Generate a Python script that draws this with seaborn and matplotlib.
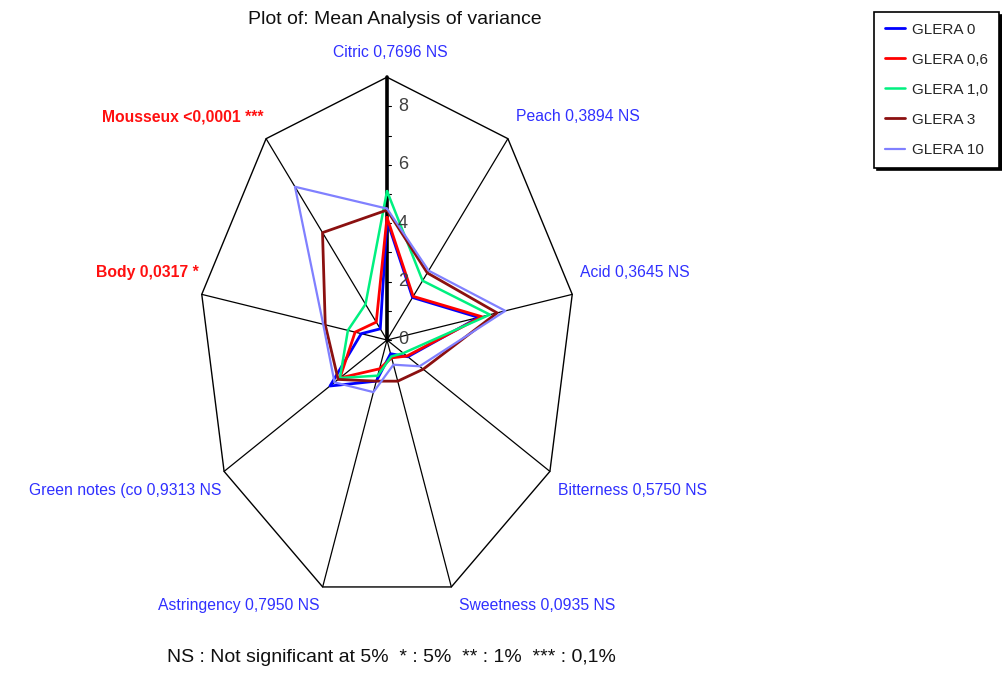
import numpy as np
import pandas as pd
import seaborn as sns
import matplotlib.pyplot as plt
from matplotlib.lines import Line2D

# attributes, clockwise from the top
attributes = ["Citric", "Peach", "Acid", "Bitterness", "Sweetness",
              "Astringency", "Green notes (co", "Body", "Mousseux"]
pvalues = ["0,7696 NS", "0,3894 NS", "0,3645 NS", "0,5750 NS", "0,0935 NS",
           "0,7950 NS", "0,9313 NS", "0,0317 *", "<0,0001 ***"]
significant = [False, False, False, False, False, False, False, True, True]

series_names = ["GLERA 0", "GLERA 0,6", "GLERA 1,0", "GLERA 3", "GLERA 10"]
glera_0 = [4.1, 1.9, 4.45, 1.15, 0.5, 1.5, 3.15, 1.25, 0.5]
glera_06 = [4.2, 1.95, 4.6, 1.1, 0.65, 1.05, 2.6, 1.55, 0.8]
glera_10 = [5.1, 2.65, 5.0, 0.9, 0.6, 1.3, 2.6, 1.9, 1.6]
glera_3 = [4.45, 3.0, 5.35, 2.0, 1.5, 1.5, 2.7, 3.0, 4.8]
glera_10b = [4.5, 3.1, 5.75, 1.8, 0.9, 1.9, 2.9, 3.1, 6.85]
series_values = [glera_0, glera_06, glera_10, glera_3, glera_10b]

ticks = [0, 2, 4, 6, 8]
r_max = 9

colors = ["#0000FF", "#FF0000", "#00F080", "#8B1010", "#8080FF"]
widths = [2.0, 2.0, 1.8, 2.0, 1.6]

sns.set_style("white")
plt.rcParams['font.family'] = ['Liberation Sans', 'DejaVu Sans']

W, H = 1003, 673
fig = plt.figure(figsize=(W / 100, H / 100), dpi=100)
ax = fig.add_axes([0, 0, 1, 1])

# the chart is stretched: different pixel scale in x and y
cx, cy = 387, 340
ux, uy = 20.9, 29.2
ax.set_xlim(-cx / ux, (W - cx) / ux)
ax.set_ylim(-(H - cy) / uy, cy / uy)
ax.axis('off')

n = len(attributes)
angles = np.arange(n) * 2 * np.pi / n

# grid: outer polygon and spokes
outer = pd.DataFrame({"x": np.append(r_max * np.sin(angles), 0),
                      "y": np.append(r_max * np.cos(angles), r_max)})
sns.lineplot(data=outer, x="x", y="y", sort=False, estimator=None,
             color="black", lw=1.0, ax=ax)
for a in angles[1:]:
    ax.plot([0, r_max * np.sin(a)], [0, r_max * np.cos(a)], color="black", lw=0.9)

# citric axis: the scale
ax.plot([0, 0], [0, r_max], color="black", lw=2.6)
for v in range(0, r_max):
    ax.plot([0, 4 / ux], [v, v], color="black", lw=0.8)
for t in ticks:
    ax.annotate(str(t), xy=(0, t), xytext=(16, 0), textcoords="offset pixels",
                ha="center", va="center", fontsize=13, color="#404040")

# data polygons
rows = []
for name, vals in zip(series_names, series_values):
    v = np.append(vals, vals[0])
    a = np.append(angles, angles[0])
    for i in range(len(v)):
        rows.append({"series": name, "order": i,
                     "x": v[i] * np.sin(a[i]), "y": v[i] * np.cos(a[i])})
df = pd.DataFrame(rows)
for name, c, lw in zip(series_names, colors, widths):
    sns.lineplot(data=df[df["series"] == name], x="x", y="y", sort=False,
                 estimator=None, color=c, lw=lw, ax=ax)

# attribute labels
for i, (att, pv) in enumerate(zip(attributes, pvalues)):
    a = angles[i]
    x, y = r_max * np.sin(a), r_max * np.cos(a)
    dy = 22 if np.cos(a) > 0 else -19
    if i == 0:
        dx, ha = 3, "center"
        dy = 25
    elif np.sin(a) > 0:
        dx, ha = 8, "left"
    else:
        dx, ha = -3, "right"
    if significant[i]:
        ax.annotate(f"{att} {pv}", xy=(x, y), xytext=(dx, dy), textcoords="offset pixels",
                    ha=ha, va="center", fontsize=11.3, color="#FF1010", fontweight="bold")
    else:
        ax.annotate(f"{att} {pv}", xy=(x, y), xytext=(dx, dy), textcoords="offset pixels",
                    ha=ha, va="center", fontsize=11.3, color="#3030FF")

fig.text(395 / W, 1 - 20 / H, "Plot of: Mean Analysis of variance",
         ha="center", va="center", fontsize=14, color="#101010")
fig.text(391 / W, 1 - 658 / H, "NS : Not significant at 5%  * : 5%  ** : 1%  *** : 0,1%",
         ha="center", va="center", fontsize=14, color="#101010")

handles = [Line2D([], [], color=c, lw=lw) for c, lw in zip(colors, widths)]
leg = fig.legend(handles, series_names, loc="upper left",
                 bbox_to_anchor=(874 / W, 1 - 12 / H), frameon=True, fancybox=False,
                 shadow={"color": "black", "alpha": 1}, fontsize=11,
                 handlelength=1.3, handletextpad=0.5, labelspacing=1.05,
                 borderpad=0.7, borderaxespad=0)
leg.get_frame().set_edgecolor("black")
leg.get_frame().set_linewidth(1.2)

fig.savefig("out.png", dpi=100)
